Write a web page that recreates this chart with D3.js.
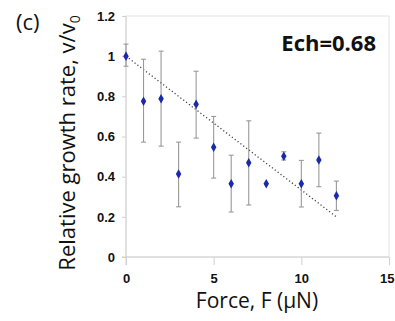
<!DOCTYPE html>
<html>
<head>
<meta charset="utf-8">
<script src="https://cdn.jsdelivr.net/npm/d3@7"></script>
<style>
  body { margin: 0; background: #fff; }
  .tick text { font-family: "Liberation Sans", Arial, sans-serif; font-weight: bold; font-size: 13px; fill: #111; }
  .title { font-family: "Open Sans", sans-serif; fill: #111; }
</style>
</head>
<body>
<svg id="chart"></svg>
<script>
var width = 395;
var height = 321;

// data
var force = [0, 1, 2, 3, 4, 5, 6, 7, 8, 9, 10, 11, 12];
var rate = [1.0, 0.776, 0.788, 0.413, 0.761, 0.547, 0.365, 0.469, 0.365, 0.502, 0.365, 0.483, 0.305];
var errHigh = [1.06, 0.985, 1.025, 0.572, 0.925, 0.70, 0.507, 0.678, 0.37, 0.524, 0.481, 0.617, 0.378];
var errLow = [0.95, 0.572, 0.552, 0.25, 0.592, 0.393, 0.224, 0.259, 0.36, 0.483, 0.249, 0.35, 0.232];
var fitLine = [[0, 1.0], [12, 0.2]];
var xTicks = [0, 5, 10, 15];
var yTicks = [0, 0.2, 0.4, 0.6, 0.8, 1, 1.2];

var svg = d3.select('#chart')
    .attr('width', width)
    .attr('height', height);

var x = d3.scaleLinear().domain([0, 15]).range([126, 389]);
var y = d3.scaleLinear().domain([0, 1.2]).range([257, 16]);

// plot border
svg.append('rect')
    .attr('x', x(0)).attr('y', y(1.2))
    .attr('width', x(15) - x(0)).attr('height', y(0) - y(1.2))
    .attr('fill', 'none').attr('stroke', '#e3e3e3');

var xAxis = svg.append('g')
    .attr('transform', `translate(0,${y(0)})`)
    .call(d3.axisBottom(x).tickValues(xTicks).tickSize(8).tickPadding(9).tickFormat(d3.format('d')));
var yAxis = svg.append('g')
    .attr('transform', `translate(${x(0)},0)`)
    .call(d3.axisLeft(y).tickValues(yTicks).tickSize(4).tickPadding(7).tickFormat(function(d) { return d === 0 || d === 1 ? d : d3.format('.1f')(d); }));

[xAxis, yAxis].forEach(function(a) {
    a.select('.domain').attr('stroke', '#d0d0d0');
    a.selectAll('.tick line').attr('stroke', '#d0d0d0');
});
xAxis.select('.domain').attr('d', `M${x(0) - 4},0H${x(15)}`);
yAxis.select('.domain').attr('d', `M0,${y(1.2)}V${y(0) + 8}`);
// last label sits at the page edge, keep it inside
xAxis.selectAll('.tick text')
    .filter(function(d) { return d === 15; })
    .attr('text-anchor', 'end')
    .attr('x', width - 1 - x(15));

// trend line
svg.append('path')
    .datum(fitLine)
    .attr('d', d3.line().x(function(d) { return x(d[0]); }).y(function(d) { return y(d[1]); }))
    .attr('fill', 'none')
    .attr('stroke', '#444')
    .attr('stroke-width', 1.3)
    .attr('stroke-dasharray', '1.2,2.4');

// error bars
var eb = svg.append('g');
force.forEach(function(f, i) {
    if (errHigh[i] - errLow[i] < 0.02) return;
    var g = eb.append('g').attr('stroke', '#999').attr('stroke-width', 1.1);
    g.append('line').attr('x1', x(f)).attr('x2', x(f)).attr('y1', y(errHigh[i])).attr('y2', y(errLow[i]));
    g.append('line').attr('x1', x(f) - 2.5).attr('x2', x(f) + 2.5).attr('y1', y(errHigh[i])).attr('y2', y(errHigh[i]));
    g.append('line').attr('x1', x(f) - 2.5).attr('x2', x(f) + 2.5).attr('y1', y(errLow[i])).attr('y2', y(errLow[i]));
});

// points
svg.append('g').selectAll('path')
    .data(force)
    .enter().append('path')
    .attr('d', d3.symbol().type(d3.symbolDiamond).size(26))
    .attr('transform', function(d, i) { return `translate(${x(d)},${y(rate[i])})`; })
    .attr('fill', '#1a2aa8');

// labels
svg.append('text').attr('class', 'title')
    .attr('x', 16).attr('y', 30)
    .style('font-size', '22px')
    .text('(c)');

svg.append('text').attr('class', 'title')
    .attr('x', 376).attr('y', 51)
    .attr('text-anchor', 'end')
    .style('font-size', '22px').style('font-weight', 'bold')
    .text('Ech=0.68');

svg.append('text').attr('class', 'title')
    .attr('x', 257).attr('y', 308)
    .attr('text-anchor', 'middle')
    .style('font-size', '21px')
    .text('Force, F (\u03BCN)');

var yt = svg.append('text').attr('class', 'title')
    .attr('transform', 'translate(75,143) rotate(-90)')
    .attr('text-anchor', 'middle')
    .style('font-size', '22px');
yt.append('tspan').text('Relative growth rate, v/v');
yt.append('tspan').attr('dy', 5).style('font-size', '14px').text('0');
</script>
</body>
</html>
